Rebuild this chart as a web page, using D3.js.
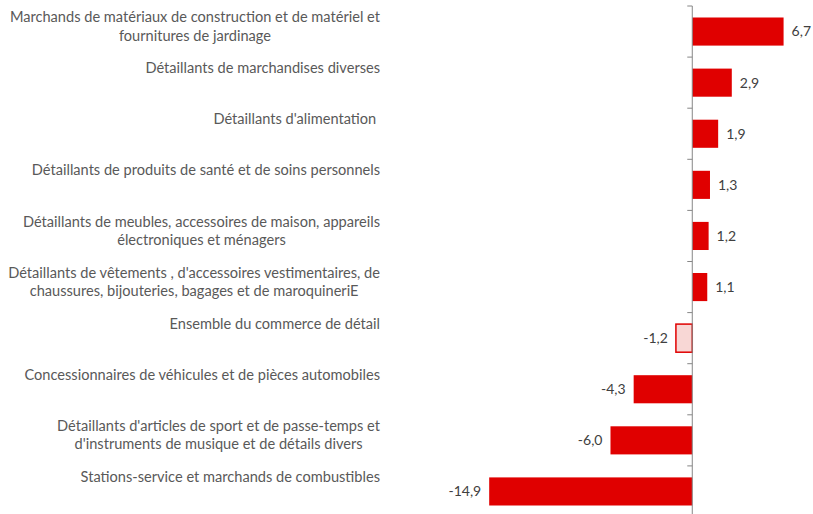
<!DOCTYPE html>
<html>
<head>
<meta charset="utf-8">
<script src="https://cdn.jsdelivr.net/npm/d3@7"></script>
<style>
  body { margin: 0; background: #fff; }
  svg { display: block; }
  text { white-space: pre; }
</style>
</head>
<body>
<script>
// categories, one array of lines per label
var categories = [
    ["Marchands de matériaux de construction et de matériel et", "fournitures de jardinage"],
    ["Détaillants de marchandises diverses"],
    ["Détaillants d'alimentation "],
    ["Détaillants de produits de santé et de soins personnels"],
    ["Détaillants de meubles, accessoires de maison, appareils", "électroniques et ménagers"],
    ["Détaillants de vêtements , d'accessoires vestimentaires, de", "chaussures, bijouteries, bagages et de maroquineriE"],
    ["Ensemble du commerce de détail"],
    ["Concessionnaires de véhicules et de pièces automobiles"],
    ["Détaillants d'articles de sport et de passe-temps et", "d'instruments de musique et de détails divers"],
    ["Stations-service et marchands de combustibles"]
];
var values = [6.7, 2.9, 1.9, 1.3, 1.2, 1.1, -1.2, -4.3, -6.0, -14.9];
var highlight = [false, false, false, false, false, false, true, false, false, false];

var W = 813, H = 514;
var svg = d3.select("body").append("svg")
    .attr("width", W)
    .attr("height", H);

var FONT = "Lato, 'Open Sans', sans-serif";

// scales
var xScale = d3.scaleLinear().domain([-16, 8]).range([474.2, 801.3]);
var yScale = d3.scaleBand()
    .domain(d3.range(values.length))
    .range([6, 6 + 51.1 * values.length])
    .paddingInner(0.45)
    .paddingOuter(0.225);

var step = yScale.step();

// bars
svg.selectAll("rect.bar")
    .data(values)
    .enter().append("rect")
    .attr("class", "bar")
    .attr("x", function (d) { return xScale(Math.min(0, d)); })
    .attr("y", function (d, i) { return yScale(i); })
    .attr("width", function (d) { return Math.abs(xScale(d) - xScale(0)); })
    .attr("height", yScale.bandwidth())
    .attr("fill", function (d, i) { return highlight[i] ? "#f8d7d5" : "#e00000"; })
    .attr("stroke", function (d, i) { return highlight[i] ? "#e00000" : "none"; })
    .attr("stroke-width", 1.5);

// axis at zero
var axis = svg.append("g")
    .attr("transform", "translate(" + xScale(0) + ",0)");
axis.append("line")
    .attr("x1", 0).attr("x2", 0)
    .attr("y1", 6).attr("y2", 6 + step * values.length)
    .attr("stroke", "#868686").attr("stroke-width", 1);
axis.selectAll("line.tick")
    .data(d3.range(values.length + 1))
    .enter().append("line")
    .attr("class", "tick")
    .attr("x1", -5).attr("x2", 0)
    .attr("y1", function (i) { return 6 + i * step; })
    .attr("y2", function (i) { return 6 + i * step; })
    .attr("stroke", "#868686").attr("stroke-width", 1);

// value labels
svg.selectAll("text.val")
    .data(values)
    .enter().append("text")
    .attr("class", "val")
    .attr("x", function (d) { return d >= 0 ? xScale(d) + 8 : xScale(d) - 8; })
    .attr("y", function (d, i) { return yScale(i) + yScale.bandwidth() / 2; })
    .attr("dy", "0.35em")
    .attr("text-anchor", function (d) { return d >= 0 ? "start" : "end"; })
    .attr("font-family", FONT)
    .attr("font-size", "14px")
    .attr("fill", "#404040")
    .text(function (d) { return d.toFixed(1).replace(".", ","); });

// category labels: block right-aligned at 380, lines centred in the block
var labelRight = 380;
categories.forEach(function (lines, i) {
    var g = svg.append("g");
    var texts = lines.map(function (line, j) {
        return g.append("text")
            .attr("y", 6 + i * step + 11 + j * 18.5)
            .attr("dy", "0.35em")
            .attr("text-anchor", "middle")
            .attr("font-family", FONT)
            .attr("font-size", "14.6px")
            .attr("fill", "#595959")
            .text(line);
    });
    var maxW = d3.max(texts, function (t) { return t.node().getComputedTextLength(); });
    texts.forEach(function (t) { t.attr("x", labelRight - maxW / 2); });
});
</script>
</body>
</html>
